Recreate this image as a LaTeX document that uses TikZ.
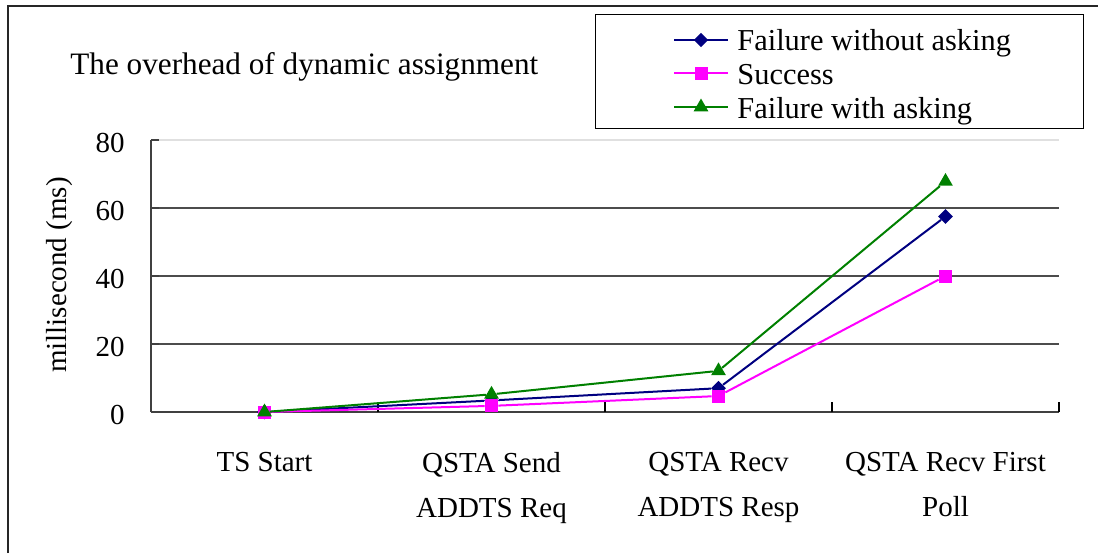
\documentclass[tikz,border=0pt]{standalone}
\usepackage{fontspec}
\setmainfont{Liberation Serif}
\usetikzlibrary{shapes.geometric}

\definecolor{navyline}{RGB}{0,0,128}
\definecolor{pinkline}{RGB}{255,0,255}
\definecolor{greenline}{RGB}{0,128,0}

\begin{document}
\begin{tikzpicture}[x=0.5pt,y=-0.5pt,
  lbl/.style={font=\fontsize{14.5}{22.5}\selectfont,inner sep=0pt},
  biglbl/.style={font=\fontsize{15.2}{18.5}\selectfont,inner sep=0pt},
  axisline/.style={draw=black!75,line width=1pt},
  gridline/.style={draw=black!70,line width=0.8pt},
  series/.style={line width=1pt},
  diam/.style={diamond,fill=navyline,inner sep=0pt,minimum size=7.5pt},
  sq/.style={rectangle,fill=pinkline,inner sep=0pt,minimum size=6.5pt},
  tri/.style={regular polygon,regular polygon sides=3,fill=greenline,inner sep=0pt,minimum size=8.5pt}]
\useasboundingbox (0,0) rectangle (1098,553);

% frame of the chart
\draw[line width=1pt,black!85] (8,553) -- (8,6) -- (1098,6);

% title
\node[biglbl,font=\fontsize{15.6}{18.5}\selectfont,anchor=base west] (title) at (70,74) {The overhead of dynamic assignment};

% legend
\node[draw,line width=0.7pt,anchor=north west,minimum width=244pt,minimum height=57pt,inner sep=0pt] (legend) at (595,14) {};
\draw[series,navyline] (674,40) -- node[diam] (lgfwo) {} (728,40);
\node[biglbl,anchor=base west] (lgfwotxt) at (737,50) {Failure without asking};
\draw[series,pinkline] (674,73) -- node[sq] (lgsuc) {} (728,73);
\node[biglbl,anchor=base west] (lgsuctxt) at (737,84) {Success};
\draw[series,greenline] (674,107) -- node[tri] (lgfwa) {} (728,107);
\node[biglbl,anchor=base west] (lgfwatxt) at (737,118) {Failure with asking};

% y label
\node[lbl,rotate=90] (ylabel) at (60,275) {millisecond (ms)};

% plot area
\begin{scope}[shift={(151,412)},x=113.5pt,y=1.7pt]
  % grid
  \draw[draw=black!12,line width=0.6pt] (0,80) -- (4,80);
  \foreach \v in {20,40,60}
    \draw[gridline] (0,\v) -- (4,\v);
  % axis
  \draw[axisline] (0,0) -- (4,0);
  \draw[axisline] (0,0) -- (0,80);
  \foreach \v in {0,20,...,80} {
    \draw[axisline] (0,\v) -- ++(4pt,0);
    \node[lbl,anchor=east] (ytick\v) at ([xshift=-13pt,yshift=-1.5pt]0,\v) {\v};
  }
  \foreach \i in {1,2,3,4}
    \draw[axisline,line width=0.6pt,black] (\i,0) -- ++(0,5pt);

  % category labels
  \node[lbl,anchor=north] (cat1) at ([yshift=-20pt]0.5,0) {TS Start};
  \node[lbl,anchor=north,align=center] (cat2) at ([yshift=-20pt]1.5,0) {QSTA Send\\ADDTS Req};
  \node[lbl,anchor=north,align=center] (cat3) at ([yshift=-20pt]2.5,0) {QSTA Recv\\ADDTS Resp};
  \node[lbl,anchor=north,align=center] (cat4) at ([yshift=-20pt]3.5,0) {QSTA Recv First\\Poll};

  % data series
  \foreach \s/\col/\mk/\vals in {fwo/navyline/diam/{0,3.4,7,57.5},
                                 suc/pinkline/sq/{0,1.8,4.7,40},
                                 fwa/greenline/tri/{0,5.2,12.1,67.8}} {
    \foreach \v [count=\i] in \vals
      \node[\mk] (\s\i) at (\i-0.5,\v) {};
    \draw[series,\col] (\s1) -- (\s2) -- (\s3) -- (\s4);
  }
\end{scope}

\end{tikzpicture}
\end{document}
